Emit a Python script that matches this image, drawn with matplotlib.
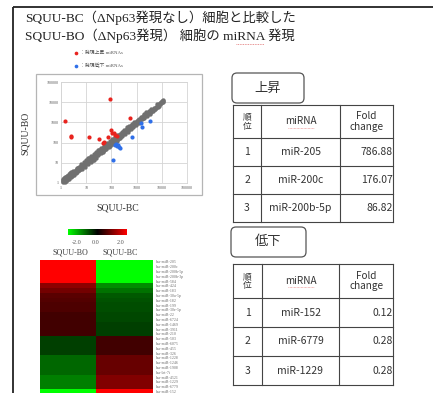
import matplotlib
matplotlib.use("Agg")
import matplotlib.pyplot as plt
import numpy as np
from matplotlib.patches import Rectangle, FancyBboxPatch
from matplotlib.colors import LinearSegmentedColormap

W, H = 433, 393
SERIF = ['Liberation Serif', 'Noto Sans CJK JP', 'DejaVu Sans']
SANS = ['Noto Sans CJK JP', 'DejaVu Sans']

# ---------------- data ----------------
title_lines = ["SQUU-BC（ΔNp63発現なし）細胞と比較した",
               "SQUU-BO（ΔNp63発現） 細胞の miRNA 発現"]
legend_labels = ["：発現上昇 miRNAs", "：発現低下 miRNAs"]

bc_gray = [1.15,1.2,1.25,1.3,1.3,1.35,1.4,1.4,1.45,1.5,1.5,1.55,1.6,1.6,1.65,1.7,1.75,1.8,1.8,1.85,
           1.9,1.95,2.0,2.0,2.1,2.1,2.2,2.25,2.3,2.4,2.45,2.5,2.6,2.7,2.8,2.9,3.0,3.1,3.2,3.3,
           3.5,3.6,3.8,4.0,4.2,4.4,4.6,4.8,5.0,5.2,
           1.3,1.5,1.7,2.0,2.3,2.6,3.0,1.4,1.7,2.0,2.4,2.8,3.3,3.9,4.5,5.2,5.0,4.2,1.2,1.6,
           5.5,5.8,6.0,6.3,6.6,7.0,7.3,7.6,8.0,8.4,8.8,9.2,9.6,10,10.5,11,11.5,12,12.5,13,
           14,15,16,17,18,19,20,21,23,25,27,29,31,33,35,38,41,44,47,50,53,57,61,65,70,75,80,85,90,95,
           12,20,30,45,60,
           6,8,10,13,16,20,25,32,40,50,7,9,12,15,19,24,30,38,48,62,78,70,85,
           100,105,110,115,120,125,130,135,140,145,150,160,170,180,190,200,210,220,230,240,
           250,265,280,300,320,340,360,380,400,420,450,480,510,540,570,600,640,680,720,760,
           800,850,900,950,1000,120,150,200,250,300,400,500,600,700,180,90,85,
           110,140,170,210,260,330,410,520,650,800,120,160,210,270,350,450,580,750,950,1200,
           1050,1100,1150,1200,1300,1400,1500,1600,1700,1800,2000,2200,2400,2600,2800,3000,
           3300,3600,4000,4400,4800,5200,5700,6200,6800,7400,8000,8700,9400,10000,10500,11000,
           11500,10800,9000,
           1500,1900,2400,3000,3800,2000,2600,3300,4300,5500,7000,8500,6500]
bo_gray = [1.25,1.1,1.4,1.2,1.5,1.3,1.35,1.6,1.45,1.3,1.7,1.5,1.45,1.8,1.65,1.55,1.9,1.6,2.1,1.75,
           2.0,1.8,1.9,2.3,2.0,2.4,2.1,2.6,2.2,2.5,2.8,2.3,2.7,2.5,3.1,2.7,3.3,2.9,3.6,3.1,
           3.4,4.0,3.5,4.4,3.9,4.8,4.2,5.3,4.6,5.6,
           1.7,1.9,2.2,2.7,3.0,3.4,3.9,1.15,1.35,1.6,1.9,2.2,2.6,3.1,3.6,4.2,6.5,5.5,1.55,1.25,
           6.2,5.1,7.0,5.8,7.5,6.4,8.2,7.0,9.0,7.6,10,8.3,10.8,9.2,12,10,13,11,14.5,12,
           15,13.5,18,15,20,17.5,22,19,26,22,30,26,35,29,40,33,46,39,52,45,60,50,68,58,78,66,88,76,100,86,
           18,14,42,33,75,
           8.5,11,14,18,22,28,35,44,56,68,5,6.5,9,11,14,18,23,29,37,48,60,95,115,
           110,95,125,100,135,112,145,120,160,130,170,145,190,160,210,175,230,195,250,215,
           280,235,300,320,290,370,330,410,360,460,400,520,460,590,510,650,580,720,650,800,
           730,900,820,1050,900,105,140,240,230,350,450,480,700,800,150,70,95,
           150,190,230,280,350,440,560,700,880,1100,90,120,160,210,270,350,450,580,750,950,
           1200,1000,1350,1100,1450,1300,1650,1500,1850,1650,2200,2000,2600,2400,3000,2800,
           3500,3300,4300,4000,5000,4700,6000,5600,7000,6600,8300,8000,9500,10200,11000,12000,
           12500,10500,9800,
           1900,2500,3100,3800,4700,1600,2100,2700,3500,4500,6000,8700,7800]

bc_up = [1.5, 2.5, 2.5, 13, 31, 46, 52, 71, 85, 93, 105, 123, 143, 166, 530]
bo_up = [1170, 220, 180, 200, 150, 100, 112, 200, 15000, 420, 310, 290, 240, 220, 1580]
bc_down = [115, 143, 166, 195, 213, 655, 1540, 1630, 3500, 150, 180]
bo_down = [14, 77, 69, 63, 57, 200, 890, 565, 1170, 85, 75]

axis_ticks = [1, 10, 100, 1000, 10000, 100000]
axis_ticklabels = ["1", "10", "100", "1000", "10000", "100000"]

heat_rows = ["hsa-miR-205", "hsa-miR-200c", "hsa-miR-200b-5p", "hsa-miR-200b-3p", "hsa-miR-584",
             "hsa-miR-424", "hsa-miR-183", "hsa-miR-30a-5p", "hsa-miR-182", "hsa-miR-199",
             "hsa-miR-30e-5p", "hsa-miR-22", "hsa-miR-6724", "hsa-miR-1469", "hsa-miR-3911",
             "hsa-miR-210", "hsa-miR-503", "hsa-miR-6075", "hsa-miR-455", "hsa-miR-326",
             "hsa-miR-1228", "hsa-miR-1246", "hsa-miR-1908", "hsa-let-7i", "hsa-miR-4521",
             "hsa-miR-1229", "hsa-miR-6779", "hsa-miR-152"]
heat_cols = ["SQUU-BO", "SQUU-BC"]
heat_bo = [2.2, 2.2, 2.2, 2.2, 2.2, 1.1, 0.9, 0.7, 0.65, 0.6, 0.6, 0.5, 0.5, 0.5, 0.5, 0.5,
           -0.5, -0.5, -0.5, -0.5, -0.8, -0.8, -0.8, -0.8, -1.0, -1.0, -1.0, -2.2]
heat_bc = [-2.2, -2.2, -2.2, -2.2, -2.2, -1.1, -0.9, -0.7, -0.65, -0.6, -0.6, -0.55, -0.55, -0.5, -0.5, -0.5,
           0.5, 0.5, 0.5, 0.5, 0.8, 0.8, 0.8, 0.8, 1.0, 1.0, 1.0, 2.2]
cbar_ticks = [-2.0, 0.0, 2.0]

up_title = "上昇"
down_title = "低下"
table_header = ["順\n位", "miRNA", "Fold\nchange"]
up_rank = ["1", "2", "3"]
up_mirna = ["miR-205", "miR-200c", "miR-200b-5p"]
up_fold = ["786.88", "176.07", "86.82"]
down_rank = ["1", "2", "3"]
down_mirna = ["miR-152", "miR-6779", "miR-1229"]
down_fold = ["0.12", "0.28", "0.28"]

# ---------------- figure ----------------
fig = plt.figure(figsize=(W / 100, H / 100), dpi=100)
fig.patch.set_facecolor("white")


def frac(x0, y0, x1, y1):
    return [x0 / W, (H - y1) / H, (x1 - x0) / W, (y1 - y0) / H]


ax0 = fig.add_axes([0, 0, 1, 1], zorder=0)
ax0.set_xlim(0, W)
ax0.set_ylim(H, 0)
ax0.axis("off")

# slide border
ax0.plot([13, W], [7, 7], color="#222222", lw=1.3, solid_capstyle="butt")
ax0.plot([13, 13], [7, H], color="#222222", lw=1.3, solid_capstyle="butt")

# title
ax0.text(25, 18, title_lines[0], fontsize=9.6, family=SERIF, color="#222222", va="center", ha="left")
t2 = ax0.text(25, 36, title_lines[1], fontsize=9.6, family=SERIF, color="#222222", va="center", ha="left")
ax0.plot([236, 264], [44, 44], color="#e07070", lw=0.6, ls=(0, (1, 1)))

# legend
ax0.scatter([76], [53], s=7, color="#e8231e", zorder=3, linewidths=0)
ax0.scatter([76], [66], s=7, color="#2f6fe8", zorder=3, linewidths=0)
ax0.text(80, 53, legend_labels[0], fontsize=3.5, family=SERIF, color="#555555", va="center")
ax0.text(80, 66, legend_labels[1], fontsize=3.5, family=SERIF, color="#555555", va="center")

# scatter frame
ax0.add_patch(Rectangle((36, 74), 166, 121, fill=False, edgecolor="#b5b5b5", lw=0.9))

axs = fig.add_axes(frac(61, 82, 187, 183), zorder=2)
axs.set_xscale("log")
axs.set_yscale("log")
axs.set_xlim(1, 100000)
axs.set_ylim(1, 100000)
axs.set_facecolor("none")
axs.grid(True, which="major", color="#d4d4d4", lw=0.6)
axs.minorticks_off()
for sp in axs.spines.values():
    sp.set_color("#d4d4d4")
    sp.set_linewidth(0.6)
axs.set_xticks(axis_ticks)
axs.set_xticklabels(axis_ticklabels)
axs.set_yticks(axis_ticks)
axs.set_yticklabels(axis_ticklabels)
axs.tick_params(length=0, labelsize=3.0, colors="#555555", pad=2)
for lab in axs.get_xticklabels() + axs.get_yticklabels():
    lab.set_family(SERIF)
axs.scatter(bc_gray, bo_gray, s=10, color="#707070", linewidths=0, zorder=3, clip_on=False)
axs.scatter(bc_up, bo_up, s=9, color="#e8231e", linewidths=0, zorder=4, clip_on=False)
axs.scatter(bc_down, bo_down, s=9, color="#2f6fe8", linewidths=0, zorder=4, clip_on=False)

ax0.text(118, 208, "SQUU-BC", fontsize=7, family=SERIF, color="#333333", ha="center", va="center")
ax0.text(25, 133, "SQUU-BO", fontsize=7, family=SERIF, color="#333333", ha="center", va="center",
         rotation=90)

# heatmap
cmap = LinearSegmentedColormap.from_list("gkr", ["#00ff00", "#000000", "#ff0000"])
axh = fig.add_axes(frac(40, 260, 153, 394.4), zorder=2)
heat = np.column_stack([heat_bo, heat_bc])
axh.imshow(heat, cmap=cmap, vmin=-2, vmax=2, aspect="auto", interpolation="nearest")
axh.set_xticks([])
axh.set_yticks([])
for sp in axh.spines.values():
    sp.set_visible(False)

row_h = (394.4 - 260) / len(heat_rows)
for i, name in enumerate(heat_rows):
    ax0.text(155, 260 + row_h * (i + 0.5), name, fontsize=2.9, family=SERIF, color="#707070",
             va="center", ha="left")
ax0.text(70, 253, heat_cols[0], fontsize=5.8, family=SERIF, color="#444444", ha="center", va="center")
ax0.text(120, 253, heat_cols[1], fontsize=5.8, family=SERIF, color="#444444", ha="center", va="center")

# colorbar
axc = fig.add_axes(frac(68, 229, 127, 235.5), zorder=2)
axc.imshow(np.linspace(-2, 2, 256)[None, :], cmap=cmap, vmin=-2, vmax=2, aspect="auto",
           extent=[-2, 2, 0, 1])
axc.set_xticks([])
axc.set_yticks([])
for sp in axc.spines.values():
    sp.set_visible(False)
cbar_x = [77, 96, 121]
for x, v in zip(cbar_x, cbar_ticks):
    ax0.text(x, 242, f"{v:.1f}", fontsize=4.4, family=SERIF, color="#555555", ha="center", va="center")


# tables
def draw_table(box, title, top, rows_y, col_x, ranks, mirnas, folds):
    bx0, by0, bx1, by1 = box
    ax0.add_patch(FancyBboxPatch((bx0, by0), bx1 - bx0, by1 - by0,
                                 boxstyle="round,pad=0,rounding_size=5",
                                 fill=False, edgecolor="#555555", lw=0.9))
    ax0.text((bx0 + bx1) / 2, (by0 + by1) / 2, title, fontsize=9.5, family=SANS,
             color="#333333", ha="center", va="center")
    x0, x1, x2, x3 = col_x
    ys = [top] + rows_y
    for y in ys:
        ax0.plot([x0, x3], [y, y], color="#444444", lw=0.8)
    for x in col_x:
        ax0.plot([x, x], [ys[0], ys[-1]], color="#444444", lw=0.8)
    hy = (ys[0] + ys[1]) / 2
    ax0.text((x0 + x1) / 2, hy, table_header[0], fontsize=6.3, family=SANS, color="#333333",
             ha="center", va="center", linespacing=1.05)
    ax0.text((x1 + x2) / 2, hy, table_header[1], fontsize=7.2, family=SANS, color="#333333",
             ha="center", va="center")
    ax0.plot([(x1 + x2) / 2 - 13, (x1 + x2) / 2 + 13], [hy + 6, hy + 6], color="#e88080",
             lw=0.5, ls=(0, (1, 1)))
    ax0.text((x2 + x3) / 2, hy, table_header[2], fontsize=7.2, family=SANS, color="#333333",
             ha="center", va="center", linespacing=1.05)
    for i in range(3):
        cy = (ys[i + 1] + ys[i + 2]) / 2
        ax0.text((x0 + x1) / 2, cy, ranks[i], fontsize=7.5, family=SANS, color="#333333",
                 ha="center", va="center")
        ax0.text((x1 + x2) / 2, cy, mirnas[i], fontsize=7.5, family=SANS, color="#333333",
                 ha="center", va="center")
        ax0.text(x3 - 0.5, cy, folds[i], fontsize=7.5, family=SANS, color="#333333",
                 ha="right", va="center")


draw_table((232, 73, 304, 103), up_title, 105, [138, 166, 194, 222], [233, 261, 340, 393],
           up_rank, up_mirna, up_fold)
draw_table((231, 227, 306, 257), down_title, 264, [298, 327, 356, 385], [233, 262, 339, 393],
           down_rank, down_mirna, down_fold)

fig.savefig("out.png", dpi=100, facecolor="white")
